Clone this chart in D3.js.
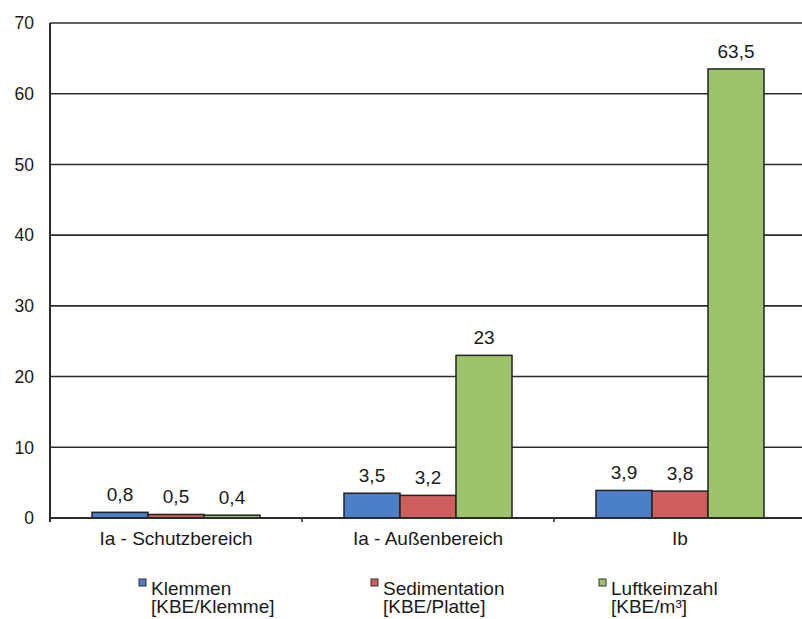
<!DOCTYPE html>
<html>
<head>
<meta charset="utf-8">
<script src="https://cdn.jsdelivr.net/npm/d3@7"></script>
<style>
  body { margin: 0; background: #fff; }
  text { font-family: "Liberation Sans", Arial, sans-serif; fill: #1a1a1a; }
</style>
</head>
<body>
<script>
// chart data
const categories = ["Ia - Schutzbereich", "Ia - Außenbereich", "Ib"];
const seriesNames = ["Klemmen", "Sedimentation", "Luftkeimzahl"];
const seriesUnits = ["[KBE/Klemme]", "[KBE/Platte]", "[KBE/m³]"];
const klemmen = [0.8, 3.5, 3.9];
const sedimentation = [0.5, 3.2, 3.8];
const luftkeimzahl = [0.4, 23, 63.5];
const yTicks = [0, 10, 20, 30, 40, 50, 60, 70];

const colors = ["#4b80c6", "#cf5f5c", "#9dc46d"];
const values = [klemmen, sedimentation, luftkeimzahl];

const width = 802, height = 619;
const margin = { left: 50, top: 23, right: -4, bottom: 101 };

const svg = d3.select("body").append("svg")
  .attr("width", width)
  .attr("height", height);

const x = d3.scaleBand()
  .domain(categories)
  .range([margin.left, width - margin.right])
  .paddingInner(0)
  .paddingOuter(0);

// bars take 2/3 of each group, centred
const xInner = d3.scaleBand()
  .domain(seriesNames)
  .range([0, x.bandwidth()])
  .paddingOuter(0.75)
  .paddingInner(0);

const y = d3.scaleLinear()
  .domain([0, 70])
  .range([height - margin.bottom, margin.top]);

// gridlines
svg.selectAll(".grid")
  .data(yTicks)
  .enter()
  .append("line")
  .attr("x1", margin.left)
  .attr("x2", width)
  .attr("y1", d => y(d))
  .attr("y2", d => y(d))
  .attr("stroke", "#2b2b2b")
  .attr("stroke-width", 1.6);

// y tick labels
svg.selectAll(".ylab")
  .data(yTicks)
  .enter()
  .append("text")
  .attr("x", 34)
  .attr("y", d => y(d))
  .attr("dy", "0.36em")
  .attr("text-anchor", "end")
  .style("font-size", "17.5px")
  .text(d => d);

// bars
const groups = svg.selectAll(".grp")
  .data(categories)
  .enter()
  .append("g")
  .attr("transform", d => `translate(${x(d)},0)`);

seriesNames.forEach((s, si) => {
  groups.append("rect")
    .attr("x", xInner(s))
    .attr("width", xInner.bandwidth())
    .attr("y", (d, i) => y(values[si][i]))
    .attr("height", (d, i) => y(0) - y(values[si][i]))
    .attr("fill", colors[si])
    .attr("stroke", "#222")
    .attr("stroke-width", 1.5);

  groups.append("text")
    .attr("x", xInner(s) + xInner.bandwidth() / 2)
    .attr("y", (d, i) => y(values[si][i]) - 11)
    .attr("text-anchor", "middle")
    .style("font-size", "19px")
    .text((d, i) => String(values[si][i]).replace(".", ","));
});

// x axis line, ticks and left axis
svg.append("line")
  .attr("x1", margin.left).attr("x2", width)
  .attr("y1", y(0)).attr("y2", y(0))
  .attr("stroke", "#2b2b2b").attr("stroke-width", 2);

svg.append("line")
  .attr("x1", margin.left).attr("x2", margin.left)
  .attr("y1", y(70)).attr("y2", y(0) + 4)
  .attr("stroke", "#2b2b2b").attr("stroke-width", 2);

svg.selectAll(".xtick")
  .data(categories.slice(1))
  .enter()
  .append("line")
  .attr("x1", d => x(d)).attr("x2", d => x(d))
  .attr("y1", y(0)).attr("y2", y(0) + 4)
  .attr("stroke", "#2b2b2b").attr("stroke-width", 1.5);

svg.selectAll(".xlab")
  .data(categories)
  .enter()
  .append("text")
  .attr("x", d => x(d) + x.bandwidth() / 2)
  .attr("y", 545)
  .attr("text-anchor", "middle")
  .style("font-size", "19px")
  .text(d => d);

// legend
const legendX = [139, 371, 599];
seriesNames.forEach((s, i) => {
  svg.append("rect")
    .attr("x", legendX[i])
    .attr("y", 579)
    .attr("width", 7)
    .attr("height", 7)
    .attr("fill", colors[i])
    .attr("stroke", "#333")
    .attr("stroke-width", 1);
  const t = svg.append("text")
    .attr("x", legendX[i] + 12)
    .attr("y", 595)
    .style("font-size", "19px");
  t.append("tspan").text(s);
  t.append("tspan")
    .attr("x", legendX[i] + 12)
    .attr("dy", 18)
    .text(seriesUnits[i]);
});
</script>
</body>
</html>
